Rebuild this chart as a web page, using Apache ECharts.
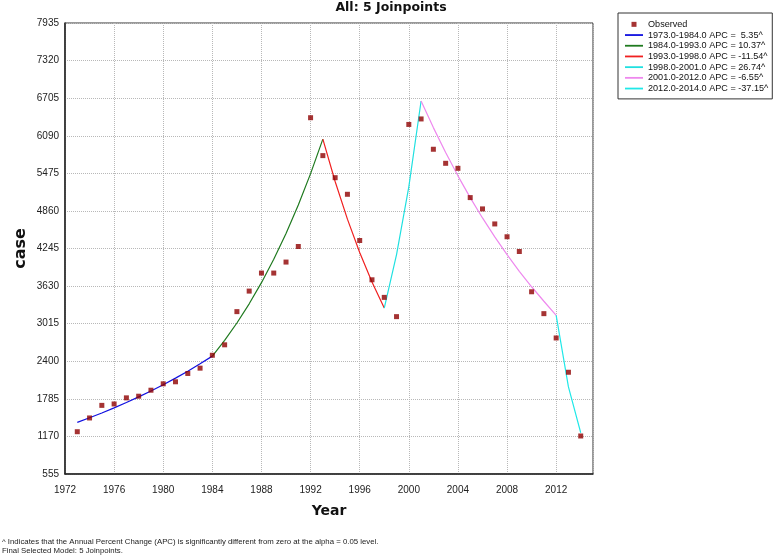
<!DOCTYPE html>
<html>
<head>
<meta charset="utf-8">
<script src="https://cdn.jsdelivr.net/npm/echarts@6/dist/echarts.min.js"></script>
<style>
html,body{margin:0;padding:0;background:#fff;}
#chart{width:782px;height:558px;}
</style>
</head>
<body>
<div id="chart"></div>
<script>
// Observed data
var years = [1973,1974,1975,1976,1977,1978,1979,1980,1981,1982,1983,1984,1985,1986,1987,1988,1989,1990,1991,1992,1993,1994,1995,1996,1997,1998,1999,2000,2001,2002,2003,2004,2005,2006,2007,2008,2009,2010,2011,2012,2013,2014];
var observed = [1247,1472,1678,1701,1801,1828,1926,2031,2064,2200,2287,2498,2669,3212,3548,3843,3843,4023,4278,6385,5765,5404,5132,4376,3733,3445,3130,6275,6365,5869,5639,5557,5078,4893,4647,4437,4196,3537,3179,2781,2220,1177];

// Fitted segments (years and values)
var seg1Years = [1973,1974,1975,1976,1977,1978,1979,1980,1981,1982,1983,1984];
var seg1Vals  = [1400,1475,1554,1637,1724,1817,1914,2016,2124,2238,2358,2484];
var seg2Years = [1984,1985,1986,1987,1988,1989,1990,1991,1992,1993];
var seg2Vals  = [2484,2742,3026,3340,3686,4069,4491,4956,5470,6034];
var seg3Years = [1993,1994,1995,1996,1997,1998];
var seg3Vals  = [6034,5341,4725,4180,3697,3271];
var seg4Years = [1998,1999,2000,2001];
var seg4Vals  = [3271,4146,5254,6659];
var seg5Years = [2001,2002,2003,2004,2005,2006,2007,2008,2009,2010,2011,2012];
var seg5Vals  = [6659,6223,5815,5434,5078,4745,4434,4144,3872,3619,3382,3150];
var seg6Years = [2012,2013,2014];
var seg6Vals  = [3150,1980,1230];

var segNames = [
  '1973.0-1984.0 APC =  5.35^',
  '1984.0-1993.0 APC = 10.37^',
  '1993.0-1998.0 APC = -11.54^',
  '1998.0-2001.0 APC = 26.74^',
  '2001.0-2012.0 APC = -6.55^',
  '2012.0-2014.0 APC = -37.15^'
];
var segColors = ['#1010e0','#1f7a1f','#f02020','#20e0e0','#ee88ee','#20e8e8'];

var yTickMin = 555, yTickMax = 7935, yTickStep = 615;
var xMin = 1972, xMax = 2015, xStep = 4;

function pairs(xs, vs){ return xs.map(function(x,i){ return [x, vs[i]]; }); }

var segs = [
  [seg1Years, seg1Vals],[seg2Years, seg2Vals],[seg3Years, seg3Vals],
  [seg4Years, seg4Vals],[seg5Years, seg5Vals],[seg6Years, seg6Vals]
];

var series = [{
  name: 'Observed',
  type: 'scatter',
  symbol: 'rect',
  symbolSize: 5,
  itemStyle: {color: '#8e0000'},
  data: pairs(years, observed),
  z: 5
}];
segs.forEach(function(s, i){
  series.push({
    name: segNames[i],
    type: 'line',
    symbol: 'none',
    lineStyle: {color: segColors[i], width: 1.2},
    itemStyle: {color: segColors[i]},
    data: pairs(s[0], s[1]),
    z: 3
  });
});

var chart = echarts.init(document.getElementById('chart'));
chart.setOption({
  backgroundColor: '#fff',
  animation: false,
  title: {
    text: 'All: 5 Joinpoints',
    left: 'center',
    top: 1,
    padding: 0,
    textStyle: {fontFamily: 'DejaVu Sans', fontWeight: 'bold', fontSize: 12.5, color: '#111'}
  },
  legend: {
    orient: 'vertical',
    left: 618,
    top: 13,
    padding: [6, 4, 5, 7],
    itemGap: 0,
    itemWidth: 18,
    itemHeight: 5,
    borderColor: '#333',
    borderWidth: 1,
    borderRadius: 0,
    textStyle: {fontFamily: 'Liberation Sans', fontSize: 9.1, color: '#111', lineHeight: 10.7},
    data: [{name: 'Observed', icon: 'path://M0,0h1v1h-1z'}].concat(segNames.map(function(n){return {name:n, icon:'path://M0,0h18v1.8h-18z'};}))
  },
  grid: {
    left: 65, right: 189, top: 23, bottom: 84,
    show: true, borderColor: '#333', borderWidth: 1
  },
  xAxis: {
    type: 'value',
    min: xMin, max: xMax, interval: xStep,
    name: 'Year',
    nameLocation: 'middle',
    nameGap: 30,
    nameMoveOverlap: false,
    nameTextStyle: {fontFamily: 'DejaVu Sans', fontWeight: 'bold', fontSize: 14, color: '#111'},
    axisLine: {show: true, lineStyle: {color: '#222', width: 1.5}},
    axisTick: {show: false},
    axisLabel: {fontFamily: 'Liberation Sans', fontSize: 10, color: '#222', margin: 11, showMaxLabel: false,
      formatter: function(v){ return String(v); }},
    splitLine: {show: true, lineStyle: {color: '#b8b8b8', type: 'dotted', width: 1}}
  },
  yAxis: {
    type: 'value',
    min: yTickMin, max: yTickMax, interval: yTickStep,
    name: 'case',
    nameLocation: 'middle',
    nameGap: 36,
    nameMoveOverlap: false,
    nameTextStyle: {fontFamily: 'DejaVu Sans', fontWeight: 'bold', fontSize: 16, color: '#111'},
    axisLine: {show: true, lineStyle: {color: '#222', width: 1.5}},
    axisTick: {show: false},
    axisLabel: {fontFamily: 'Liberation Sans', fontSize: 10, color: '#222', margin: 6,
      formatter: function(v){ return String(v); }},
    splitLine: {show: true, lineStyle: {color: '#b8b8b8', type: 'dotted', width: 1}}
  },
  graphic: [
    {type: 'text', left: 2, top: 538, style: {text: '^ Indicates that the Annual Percent Change (APC) is significantly different from zero at the alpha = 0.05 level.', font: '7.8px "Liberation Sans"', fill: '#222'}},
    {type: 'text', left: 2, top: 547, style: {text: 'Final Selected Model: 5 Joinpoints.', font: '7.8px "Liberation Sans"', fill: '#222'}}
  ],
  series: series
});
</script>
</body>
</html>
